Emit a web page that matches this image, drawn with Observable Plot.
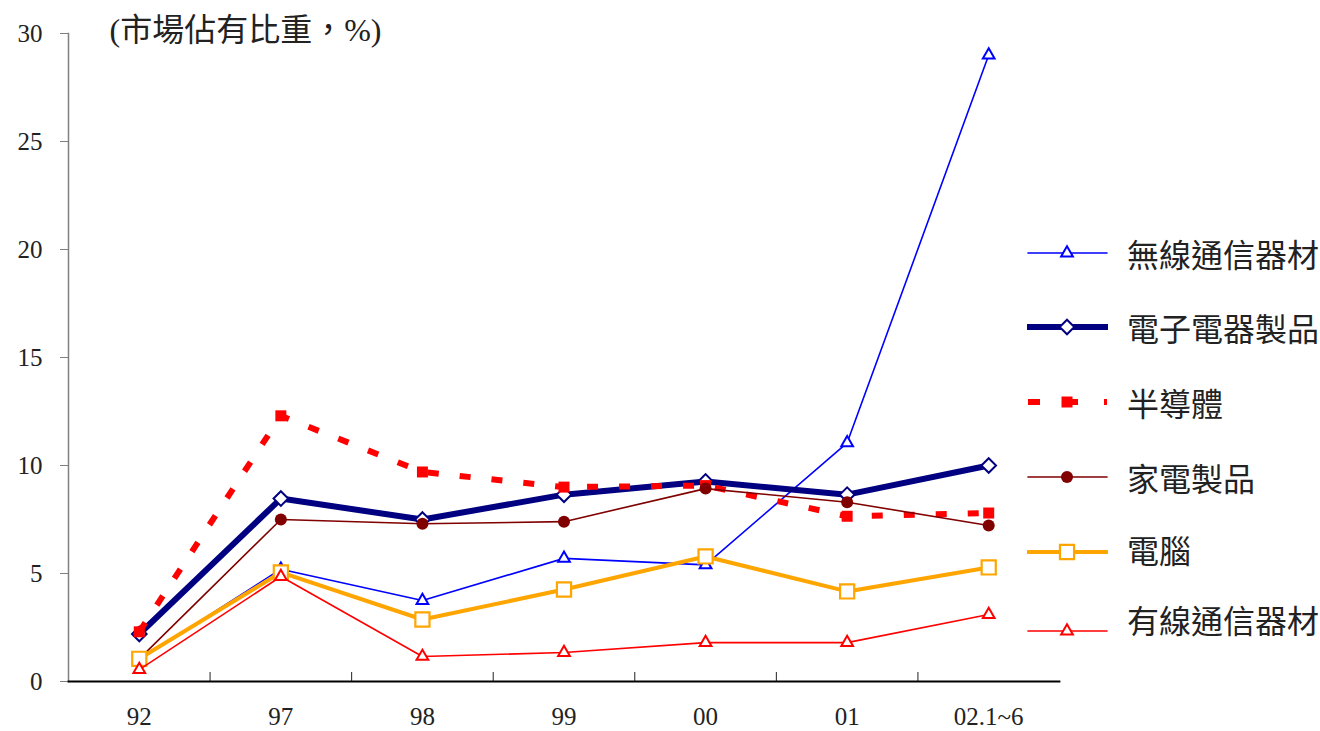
<!DOCTYPE html>
<html><head><meta charset="utf-8">
<script src="https://cdn.jsdelivr.net/npm/d3@7"></script>
<script src="https://cdn.jsdelivr.net/npm/@observablehq/plot@0.6"></script>
<style>
body{margin:0;background:#fff;}
#wrap{position:relative;width:1320px;height:731px;}
.item{position:absolute;left:1027px;display:flex;align-items:center;white-space:nowrap;height:40px;}
.item span{font-family:"Noto Sans CJK TC";font-size:32px;color:#222;margin-left:19px;}
</style></head><body><div id="wrap"></div>
<script>
const categories = ["92","97","98","99","00","01","02.1~6"];
const seriesNames = ["無線通信器材","電子電器製品","半導體","家電製品","電腦","有線通信器材"];
const wireless   = [1.0, 5.2, 3.75, 5.7, 5.4, 11.05, 29.0];
const electronic = [2.2, 8.47, 7.5, 8.65, 9.26, 8.65, 10.0];
const semicond   = [2.3, 12.3, 9.7, 9.0, 9.07, 7.65, 7.8];
const appliance  = [1.05, 7.5, 7.3, 7.4, 8.93, 8.3, 7.22];
const computer   = [1.05, 5.05, 2.87, 4.26, 5.79, 4.17, 5.28];
const wired      = [0.55, 4.86, 1.16, 1.34, 1.8, 1.8, 3.1];
const yTicks = [0,5,10,15,20,25,30];
const titleText = "(市場佔有比重，%)";

const serif = "'Liberation Serif', 'Times New Roman', serif";
const styles = [
  {stroke:"#0000FF", width:1.6, symbol:"triangle2", r:5.6, fill:"white", dotStroke:"#0000FF", sw:2},
  {stroke:"#000080", width:6, symbol:"diamond2", r:6.6, fill:"white", dotStroke:"#000080", sw:2},
  {stroke:"#FF0000", width:6, dash:"11,21", symbol:"square", r:6.2, fill:"#FF0000", dotStroke:"none", sw:0},
  {stroke:"#800000", width:1.6, symbol:"circle", r:6, fill:"#800000", dotStroke:"none", sw:0},
  {stroke:"#FFA500", width:4, symbol:"square2", r:9, fill:"white", dotStroke:"#FFA500", sw:2.2},
  {stroke:"#FF0000", width:1.6, symbol:"triangle2", r:5.6, fill:"white", dotStroke:"#FF0000", sw:2}
];
const allValues = [wireless, electronic, semicond, appliance, computer, wired];
const tables = allValues.map((vals, s) => vals.map((v, i) => ({i, cat: categories[i], value: v, series: seriesNames[s]})));

const marks = [
  Plot.frame({anchor:"left", stroke:"#808080", strokeWidth:1.5}),
  Plot.axisY({ticks: yTicks, tickSize: 8, tickPadding: 18, label: null, color:"#222", fontSize: 25, fontFamily: serif, stroke:"#808080"}),
  Plot.axisX({ticks: d3.range(categories.length), tickSize: 0, tickPadding: 26, label: null, tickFormat: i => categories[i], color:"#222", fontSize: 25, fontFamily: serif}),
  Plot.axisX({ticks: d3.range(categories.length - 1).map(i => i + 0.5), tickSize: -9, tickFormat: () => "", label: null, stroke:"#222"}),
  Plot.frame({anchor:"bottom", stroke:"black", strokeWidth:1.8}),
  Plot.text([titleText], {frameAnchor:"top-left", dx: 41, dy: -3, lineAnchor:"middle", textAnchor:"start", fontSize: 32, fontFamily:"'Liberation Serif', 'Noto Sans CJK TC', serif", fill:"#222"})
];
tables.forEach((t, s) => {
  const st = styles[s];
  marks.push(Plot.line(t, {x:"i", y:"value", stroke: st.stroke, strokeWidth: st.width, strokeDasharray: st.dash, strokeLinejoin:"round", strokeLinecap: st.dash ? "butt" : "round"}));
  marks.push(Plot.dot(t, {x:"i", y:"value", symbol: st.symbol, r: st.r, fill: st.fill, stroke: st.dotStroke, strokeWidth: st.sw}));
});

const chart = Plot.plot({
  width: 1320, height: 731,
  marginLeft: 68, marginRight: 261, marginTop: 33, marginBottom: 50,
  style: {fontFamily: serif, fontSize: "25px", background: "white", overflow: "visible"},
  x: {type: "linear", domain: [-0.5, categories.length - 0.5], axis: null},
  y: {domain: [0, 30], axis: null},
  marks
});
const wrap = document.getElementById("wrap");
wrap.appendChild(chart);

// legend
const legendY = [253, 327, 402, 477, 552, 631];
const textShift = [0, 0, 0, 0, -3, -12];
const symbolPath = {
  triangle2: d3.symbol(d3.symbolTriangle2), diamond2: d3.symbol(d3.symbolDiamond2),
  square: d3.symbol(d3.symbolSquare), circle: d3.symbol(d3.symbolCircle), square2: d3.symbol(d3.symbolSquare2)
};
seriesNames.forEach((name, s) => {
  const st = styles[s];
  const div = document.createElement("div");
  div.className = "item";
  div.style.top = (legendY[s] - 20) + "px";
  const svg = d3.create("svg").attr("width", 81).attr("height", 40);
  svg.append("line").attr("x1", 1).attr("x2", 80).attr("y1", 20).attr("y2", 20)
    .attr("stroke", st.stroke).attr("stroke-width", st.width)
    .attr("stroke-dasharray", st.dash ? "12,26" : null)
    .attr("stroke-linecap", st.dash ? "butt" : "round");
  svg.append("path").attr("transform", "translate(40,20)")
    .attr("d", symbolPath[st.symbol].size(Math.PI * st.r * st.r)())
    .attr("fill", st.fill).attr("stroke", st.dotStroke).attr("stroke-width", st.sw);
  div.appendChild(svg.node());
  const sp = document.createElement("span");
  sp.textContent = name;
  sp.style.position = "relative";
  sp.style.top = textShift[s] + "px";
  div.appendChild(sp);
  wrap.appendChild(div);
});
</script></body></html>
